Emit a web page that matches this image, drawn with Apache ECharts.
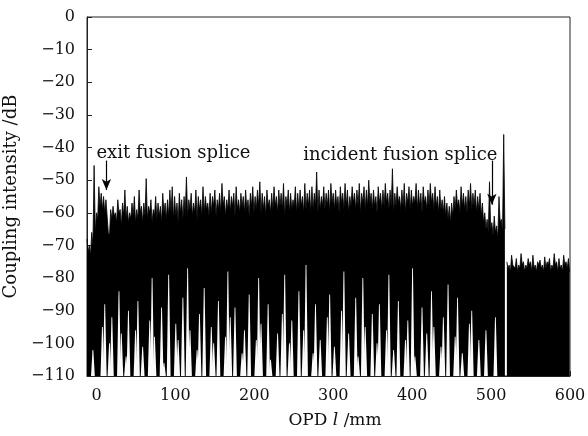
<!DOCTYPE html>
<html><head><meta charset="utf-8">
<script src="https://cdn.jsdelivr.net/npm/echarts@6/dist/echarts.min.js"></script>
<style>html,body{margin:0;padding:0;background:#fff}#c{width:588px;height:436px}</style>
</head><body><div id="c"></div>
<script>
// Sampling grid of the main trace (mm): start and step
var mainStart = -12, mainStep = 3;
// Peak values of the trace (dB), one per 3 mm from -12 mm to 516 mm
var mainHi = [
-68,-70,-66,-45.5,-60,-52,-54,-55,-56,-66,
-59,-58,-60,-56,-59,-57,-53,-58,-60,-57,
-55,-59,-53,-58,-57,-49.5,-58,-56,-59,-55,
-57,-58,-54,-57,-56,-53,-52,-55,-57,-54,
-56,-55,-49,-56,-54,-57,-53,-55,-56,-52,
-55,-57,-54,-55,-53,-56,-54,-51,-55,-56,
-53,-55,-54,-52,-56,-54,-55,-53,-56,-54,
-52,-55,-53,-50.5,-54,-55,-53,-56,-54,-52,
-55,-53,-54,-51,-55,-53,-54,-56,-52,-54,
-53,-55,-51,-54,-53,-52,-54,-47.5,-53,-55,
-52,-54,-53,-51,-54,-53,-55,-52,-54,-51,
-53,-55,-52,-54,-53,-51,-54,-52,-53,-50,
-54,-53,-55,-52,-54,-53,-51,-54,-53,-46.5,
-54,-52,-55,-53,-51,-54,-52,-53,-55,-51,
-53,-54,-52,-55,-53,-51,-54,-52,-55,-53,
-56,-55,-57,-58,-57,-55,-53,-56,-52,-54,
-55,-53,-51,-54,-53,-55,-54,-57,-60,-62,
-50.5,-63,-61,-64,-55,-62,-36
];
// Upper-fringe troughs of the trace (dB), halfway between the peaks above
var mainDip = [
-72,-73,-70,-66,-62,-58,-59,-60,-61,-67,
-62,-61,-63,-60,-64,-61,-62,-63,-62,-61,
-63,-62,-60,-63,-61,-62,-60,-63,-61,-62,
-61,-63,-60,-62,-61,-60,-62,-61,-63,-60,
-62,-60,-61,-59,-61,-60,-62,-59,-61,-60,
-59,-61,-60,-58,-61,-59,-60,-58,-61,-59,
-60,-58,-61,-59,-60,-58,-60,-59,-61,-58,
-60,-59,-58,-60,-59,-61,-58,-60,-59,-58,
-60,-58,-59,-61,-58,-60,-59,-58,-60,-59,
-58,-60,-59,-58,-60,-59,-58,-60,-59,-58,
-59,-58,-60,-57,-59,-58,-60,-57,-59,-58,
-60,-58,-57,-59,-58,-60,-57,-59,-58,-57,
-59,-58,-60,-57,-59,-58,-57,-59,-58,-60,
-58,-57,-59,-58,-60,-57,-59,-58,-57,-59,
-58,-60,-57,-59,-58,-57,-59,-58,-60,-59,
-60,-61,-62,-63,-61,-59,-58,-60,-58,-59,
-60,-58,-59,-58,-60,-59,-61,-63,-65,-66,
-65,-67,-66,-68,-63,-66,-65
];
// Lowest reach of the trace (dB) between peaks; -110 means it reaches the floor
var mainLo = [
-110,-110,-102,-110,-110,-110,-95,-88,-110,-100,
-92,-110,-110,-84,-97,-110,-104,-90,-110,-110,
-96,-87,-110,-101,-110,-110,-93,-80,-98,-110,
-110,-89,-106,-110,-79,-110,-110,-94,-99,-110,
-86,-110,-77,-96,-110,-110,-102,-91,-110,-83,
-110,-110,-95,-100,-110,-87,-110,-110,-98,-78,
-92,-110,-89,-110,-110,-103,-96,-110,-85,-110,
-110,-99,-80,-94,-110,-110,-88,-105,-110,-110,
-97,-110,-91,-79,-110,-100,-93,-110,-110,-84,
-110,-96,-76,-110,-110,-103,-88,-110,-99,-110,
-110,-92,-85,-110,-101,-110,-110,-90,-78,-110,
-97,-110,-110,-86,-104,-110,-80,-95,-110,-110,
-91,-110,-100,-88,-110,-110,-96,-79,-110,-102,
-110,-87,-110,-110,-99,-93,-110,-77,-104,-110,
-110,-89,-110,-97,-110,-84,-95,-110,-110,-101,
-92,-110,-82,-110,-110,-98,-86,-110,-103,-110,
-110,-94,-90,-110,-110,-99,-110,-110,-96,-110,
-110,-110,-92,-110,-110,-110,-110
];
// Tail beyond the incident splice: 520 mm to 598 mm, every 3 mm
var tailStart = 520, tailStep = 3;
var tailHi = [-75,-76,-73,-75.5,-74,-76,-72.5,-75,-76,-74,-75,-73,-76,-75,-74.5,-76,-73.5,-75,-74,-76,-72.5,-75,-74,-76,-73,-75,-74];
var tailDip = [-77,-78,-76,-77,-78,-77,-76,-78,-77,-76,-78,-77,-78,-76,-77,-78,-77,-76,-78,-77,-76,-78,-77,-78,-76,-77,-78];
var xTicks = [0,100,200,300,400,500,600];
var yFloor = -110;

var mainData = [];
mainHi.forEach(function (v, i) {
  var x = mainStart + mainStep * i;
  mainData.push([x, v]);
  mainData.push([x + mainStep / 2, mainDip[i]]);
});
var tailData = [];
tailHi.forEach(function (v, i) {
  var x = tailStart + tailStep * i;
  tailData.push([x, v]);
  tailData.push([x + tailStep / 2, tailDip[i]]);
});
var loData = mainLo.map(function (v, i) { return [mainStart + mainStep * i + mainStep / 2, v]; });

var F = '"DejaVu Serif","Liberation Serif",serif';
var chart = echarts.init(document.getElementById('c'), null, {renderer: 'canvas'});
function fmt(v) { return String(v).replace('-', '\u2212'); }
chart.setOption({
  animation: false,
  backgroundColor: '#fff',
  grid: {left: 87, right: 18, top: 17, bottom: 60, show: true, borderColor: '#222', borderWidth: 1,
         backgroundColor: 'transparent', containLabel: false, outerBoundsMode: 'none'},
  xAxis: {
    type: 'value', min: -12, max: 600,
    axisLine: {show: true, onZero: false, lineStyle: {color: '#222', width: 1}},
    axisTick: {show: true, inside: true, length: 5, customValues: xTicks, lineStyle: {color: '#222'}},
    axisLabel: {customValues: xTicks, color: '#111', fontFamily: F, fontSize: 16, margin: 12, formatter: fmt},
    splitLine: {show: false},
    name: 'OPD {i|l} /mm', nameLocation: 'middle', nameGap: 36,
    nameTextStyle: {color: '#111', fontFamily: F, fontSize: 17, padding: [0, 0, 0, 13], rich: {i: {fontStyle: 'italic', fontFamily: F, fontSize: 17, color: '#111'}}}
  },
  yAxis: {
    type: 'value', min: -110, max: 0, interval: 10,
    axisLine: {show: true, onZero: false, lineStyle: {color: '#222', width: 1}},
    axisTick: {show: true, inside: true, length: 5, lineStyle: {color: '#222'}},
    axisLabel: {color: '#111', fontFamily: F, fontSize: 16, margin: 12, formatter: fmt},
    splitLine: {show: false},
    name: 'Coupling intensity /dB', nameLocation: 'middle', nameGap: 58,
    nameTextStyle: {color: '#111', fontFamily: F, fontSize: 18}
  },
  series: [
    {
      type: 'line', data: mainData, showSymbol: false, symbol: 'none', sampling: 'none',
      lineStyle: {color: '#000', width: 0.8}, areaStyle: {color: '#000', opacity: 1, origin: 'start'}, z: 2,
      markLine: {
        silent: true, symbol: ['none', 'arrow'], symbolSize: [7, 11],
        lineStyle: {color: '#000', width: 1.2, type: 'solid'}, label: {show: false},
        data: [
          [{coord: [12.6, -44]}, {coord: [12.6, -53]}],
          [{coord: [501, -44]}, {coord: [501, -57.5]}]
        ]
      },
      markPoint: {
        silent: true, symbol: 'circle', symbolSize: 0,
        label: {show: true, color: '#111', fontFamily: F, fontSize: 18, position: 'inside'},
        data: [
          {coord: [97.5, -41.7], value: 'exit fusion splice', label: {formatter: 'exit fusion splice'}},
          {coord: [385, -42.3], value: 'incident fusion splice', label: {formatter: 'incident fusion splice'}}
        ]
      }
    },
    {
      type: 'custom', data: loData, z: 3, silent: true, clip: true,
      renderItem: function (params, api) {
        var x = api.value(0), lo = api.value(1);
        if (lo <= yFloor) return null;
        var t = api.coord([x, lo]), b = api.coord([x, yFloor]);
        return {type: 'polygon', shape: {points: [[t[0] - 0.4, t[1]], [t[0] + 0.4, t[1]], [b[0] + 1.9, b[1]], [b[0] - 1.9, b[1]]]}, style: {fill: '#fafafa'}};
      }
    },
    {
      type: 'line', data: tailData, showSymbol: false, symbol: 'none', sampling: 'none',
      lineStyle: {color: '#000', width: 0.8}, areaStyle: {color: '#000', opacity: 1, origin: 'start'}, z: 2
    }
  ]
});
</script></body></html>
